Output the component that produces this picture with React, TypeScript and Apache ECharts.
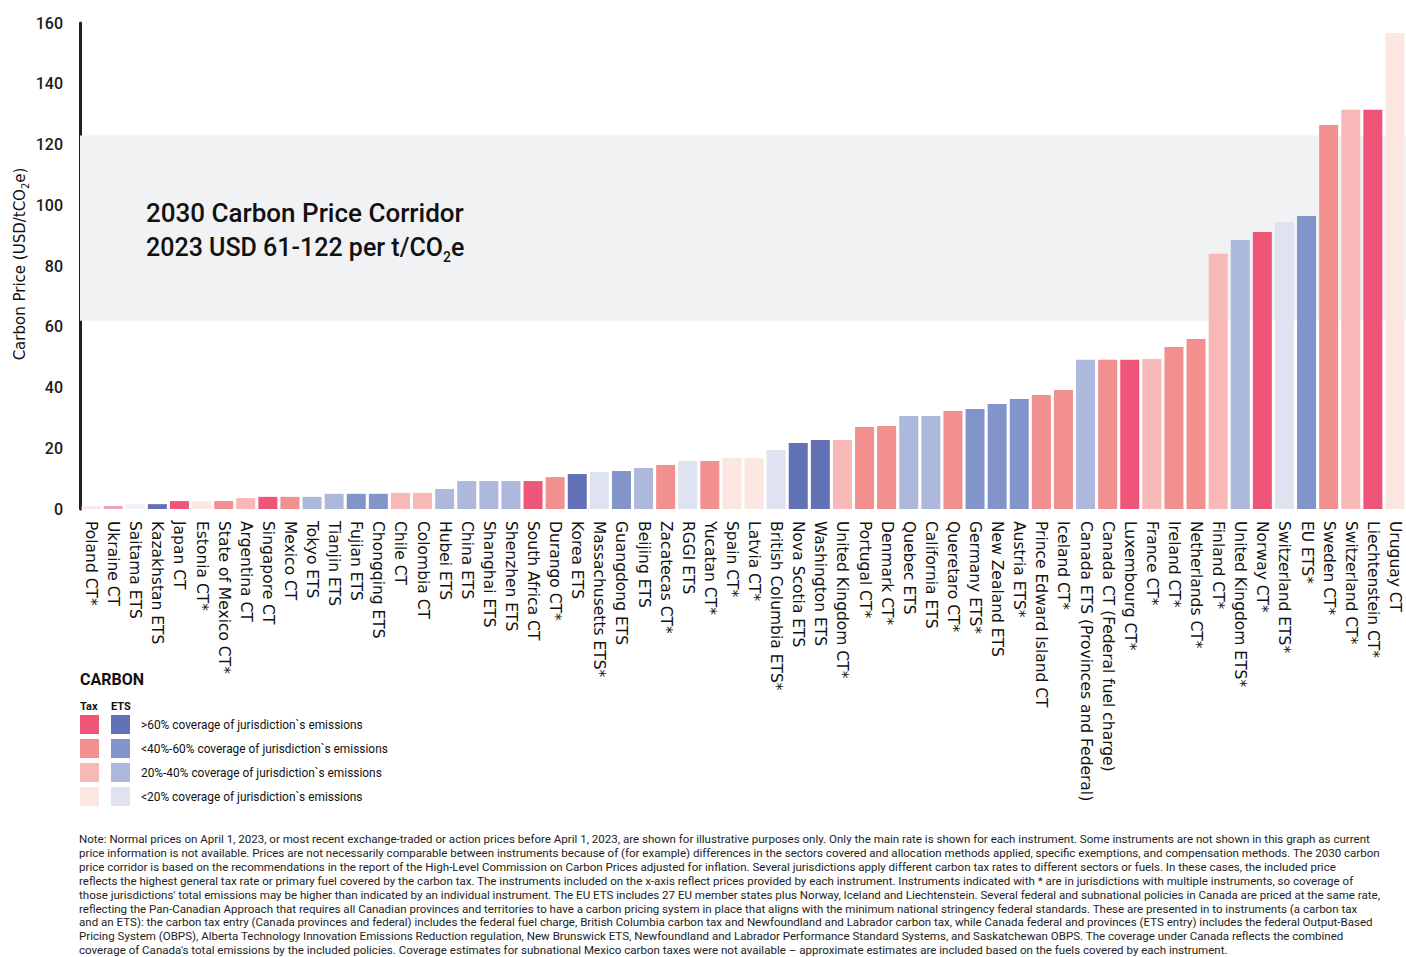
import React, { useEffect, useRef } from "react";
import * as echarts from "echarts";

const categories = [
  "Poland CT*", "Ukraine CT", "Saitama ETS", "Kazakhstan ETS", "Japan CT", "Estonia CT*",
  "State of Mexico CT*", "Argentina CT", "Singapore CT", "Mexico CT", "Tokyo ETS", "Tianjin ETS",
  "Fujian ETS", "Chongqing ETS", "Chile CT", "Colombia CT", "Hubei ETS", "China ETS",
  "Shanghai ETS", "Shenzhen ETS", "South Africa CT", "Durango CT*", "Korea ETS",
  "Massachusetts ETS*", "Guangdong ETS", "Beijing ETS", "Zacatecas CT*", "RGGI ETS",
  "Yucatan CT*", "Spain CT*", "Latvia CT*", "British Columbia ETS*", "Nova Scotia ETS",
  "Washington ETS", "United Kingdom CT*", "Portugal CT*", "Denmark CT*", "Quebec ETS",
  "California ETS", "Queretaro CT*", "Germany ETS*", "New Zealand ETS", "Austria ETS*",
  "Prince Edward Island CT", "Iceland CT*", "Canada ETS (Provinces and Federal)",
  "Canada CT (Federal fuel charge)", "Luxembourg CT*", "France CT*", "Ireland CT*",
  "Netherlands CT*", "Finland CT*", "United Kingdom ETS*", "Norway CT*", "Switzerland ETS*",
  "EU ETS*", "Sweden CT*", "Switzerland CT*", "Liechtenstein CT*", "Uruguay CT",
];

const prices = [
  0.9, 1.0, 1.6, 1.6, 2.6, 2.6, 2.6, 3.6, 4.0, 4.0, 4.0, 5.0, 5.0, 5.0, 5.3, 5.3, 6.6, 9.2,
  9.2, 9.2, 9.2, 10.5, 11.5, 12.2, 12.5, 13.5, 14.5, 15.8, 15.8, 16.8, 16.8, 19.4, 21.7,
  22.7, 22.7, 27.0, 27.3, 30.6, 30.6, 32.3, 32.9, 34.6, 36.2, 37.5, 39.2, 49.1, 49.1, 49.1,
  49.4, 53.3, 56.0, 84.0, 88.6, 91.2, 94.5, 96.5, 126.4, 131.4, 131.4, 156.7,
];

// T = carbon tax, E = ETS; 1: >60%, 2: 40-60%, 3: 20-40%, 4: <20% coverage
const coverage = [
  "T4", "TX", "E5", "E1", "T1", "T4", "T2", "T3", "T1", "T2", "E3", "E3",
  "E2", "E2", "T3", "T3", "E3", "E3", "E3", "E3", "T1", "T2", "E1",
  "E4", "E2", "E3", "T2", "E4", "T2", "T4", "T4", "E4", "E1",
  "E1", "T3", "T2", "T2", "E3", "E3", "T2", "E2", "E2", "E2",
  "T2", "T2", "E3", "T2", "T1", "T3", "T2", "T2", "T3", "E3", "T1", "E4",
  "E2", "T2", "T3", "T1", "T4",
];

const corridor = [62, 123];

const yTicks = [0, 20, 40, 60, 80, 100, 120, 140, 160];

const legendLabels = [
  ">60% coverage of jurisdiction`s emissions",
  "<40%-60% coverage of jurisdiction`s emissions",
  "20%-40% coverage of jurisdiction`s emissions",
  "<20% coverage of jurisdiction`s emissions",
];

const noteLines = [
  "Note: Normal prices on April 1, 2023, or most recent exchange-traded or action prices before April 1, 2023, are shown for illustrative purposes only. Only the main rate is shown for each instrument. Some instruments are not shown in this graph as current",
  "price information is not available. Prices are not necessarily comparable between instruments because of (for example) differences in the sectors covered and allocation methods applied, specific exemptions, and compensation methods. The 2030 carbon",
  "price corridor is based on the recommendations in the report of the High-Level Commission on Carbon Prices adjusted for inflation. Several jurisdictions apply different carbon tax rates to different sectors or fuels. In these cases, the included price",
  "reflects the highest general tax rate or primary fuel covered by the carbon tax. The instruments included on the x-axis reflect prices provided by each instrument. Instruments indicated with * are in jurisdictions with multiple instruments, so coverage of",
  "those jurisdictions' total emissions may be higher than indicated by an individual instrument. The EU ETS includes 27 EU member states plus Norway, Iceland and Liechtenstein. Several federal and subnational policies in Canada are priced at the same rate,",
  "reflecting the Pan-Canadian Approach that requires all Canadian provinces and territories to have a carbon pricing system in place that aligns with the minimum national stringency federal standards. These are presented in to instruments (a carbon tax",
  "and an ETS): the carbon tax entry (Canada provinces and federal) includes the federal fuel charge, British Columbia carbon tax and Newfoundland and Labrador carbon tax, while Canada federal and provinces (ETS entry) includes the federal Output-Based",
  "Pricing System (OBPS), Alberta Technology Innovation Emissions Reduction regulation, New Brunswick ETS, Newfoundland and Labrador Performance Standard Systems, and Saskatchewan OBPS. The coverage under Canada reflects the combined",
  "coverage of Canada's total emissions by the included policies. Coverage estimates for subnational Mexico carbon taxes were not available – approximate estimates are included based on the fuels covered by each instrument.",
];

const palette: Record<string, string> = {
  T1: "#EF5579",
  T2: "#F28F8F",
  T3: "#F8B8B7",
  T4: "#FBE6E2",
  TX: "#F4A6B8",
  E1: "#6270B5",
  E2: "#8294CA",
  E3: "#ADB9DC",
  E4: "#DFE3F1",
  E5: "#EEF0F7",
};

const FONT = "Roboto, 'Noto Sans', sans-serif";

export default function App() {
  const ref = useRef<HTMLDivElement>(null);

  useEffect(() => {
    const chart = echarts.init(ref.current!, null, { renderer: "svg" });

    const legendGraphics: any[] = [
      {
        type: "text",
        x: 80,
        y: 679,
        style: { text: "CARBON", font: `bold 16px ${FONT}`, fill: "#111", verticalAlign: "middle" },
      },
      {
        type: "text",
        x: 80,
        y: 706,
        style: { text: "Tax", font: `bold 11px ${FONT}`, fill: "#111", verticalAlign: "middle" },
      },
      {
        type: "text",
        x: 111,
        y: 706,
        style: { text: "ETS", font: `bold 11px ${FONT}`, fill: "#111", verticalAlign: "middle" },
      },
    ];
    legendLabels.forEach((label, i) => {
      const y = 715 + i * 24;
      legendGraphics.push(
        { type: "rect", shape: { x: 80, y, width: 19, height: 19 }, style: { fill: palette["T" + (i + 1)] } },
        { type: "rect", shape: { x: 111, y, width: 19, height: 19 }, style: { fill: palette["E" + (i + 1)] } },
        {
          type: "text",
          x: 141,
          y: y + 9.5,
          style: { text: label, font: `11.9px ${FONT}`, fill: "#111", verticalAlign: "middle" },
        }
      );
    });

    const noteGraphics = noteLines.map((line, i) => ({
      type: "text",
      x: 79,
      y: 839 + i * 13.9,
      style: { text: line, font: `11.55px ${FONT}`, fill: "#222", verticalAlign: "middle" },
    }));

    chart.setOption({
      animation: false,
      backgroundColor: "#ffffff",
      grid: { left: 80, right: 0, top: 23, bottom: 448, containLabel: false },
      xAxis: {
        type: "category",
        data: categories,
        axisLine: { show: false },
        axisTick: { show: false },
        axisLabel: {
          interval: 0,
          rotate: -90,
          margin: 12,
          color: "#111",
          fontFamily: "'DejaVu Sans', sans-serif",
          fontSize: 15.5,
        },
      },
      yAxis: {
        type: "value",
        min: yTicks[0],
        max: yTicks[yTicks.length - 1],
        interval: 20,
        axisLine: { show: true, lineStyle: { color: "#222", width: 3 } },
        axisTick: { show: false },
        splitLine: { show: false },
        axisLabel: {
          margin: 17,
          color: "#1a1a1a",
          fontFamily: FONT,
          fontWeight: 500,
          fontSize: 16,
        },
      },
      series: [
        {
          type: "line",
          data: [],
          z: 1,
          silent: true,
          markArea: {
            silent: true,
            itemStyle: { color: "#F1F2F4" },
            data: [[{ yAxis: corridor[0] }, { yAxis: corridor[1] }]],
          },
        },
        {
          type: "bar",
          z: 2,
          barWidth: 19,
          data: prices.map((v, i) => ({ value: v, itemStyle: { color: palette[coverage[i]] } })),
        },
      ],
      graphic: [
        {
          type: "text",
          x: 20,
          y: 264,
          z: 10,
          rotation: Math.PI / 2,
          style: {
            text: "{a|Carbon Price (USD/tCO}{s|2}{a|e)}",
            align: "center",
            verticalAlign: "middle",
            fill: "#111",
            rich: {
              a: { fontFamily: "'DejaVu Sans', sans-serif", fontSize: 15, lineHeight: 20, fill: "#111" },
              s: { fontFamily: "'DejaVu Sans', sans-serif", fontSize: 10, lineHeight: 10, verticalAlign: "bottom", fill: "#111" },
            },
          },
        },
        {
          type: "text",
          x: 146,
          y: 213,
          z: 10,
          style: {
            text: "2030 Carbon Price Corridor",
            font: `500 26px ${FONT}`,
            fill: "#111",
            verticalAlign: "middle",
          },
        },
        {
          type: "text",
          x: 146,
          y: 247,
          z: 10,
          style: {
            text: "{a|2023 USD 61-122 per t/CO}{s|2}{a|e}",
            verticalAlign: "middle",
            fill: "#111",
            rich: {
              a: { fontFamily: FONT, fontWeight: 500, fontSize: 25, lineHeight: 34, fill: "#111" },
              s: { fontFamily: FONT, fontWeight: 500, fontSize: 14, lineHeight: 14, verticalAlign: "bottom", fill: "#111" },
            },
          },
        },
        ...legendGraphics.map((g) => ({ ...g, z: 10 })),
        ...noteGraphics.map((g) => ({ ...g, z: 10 })),
      ],
    });

    return () => chart.dispose();
  }, []);

  return (
    <div
      ref={ref}
      style={{ position: "fixed", left: 0, top: 0, width: 1406, height: 957, background: "#fff" }}
    />
  );
}
